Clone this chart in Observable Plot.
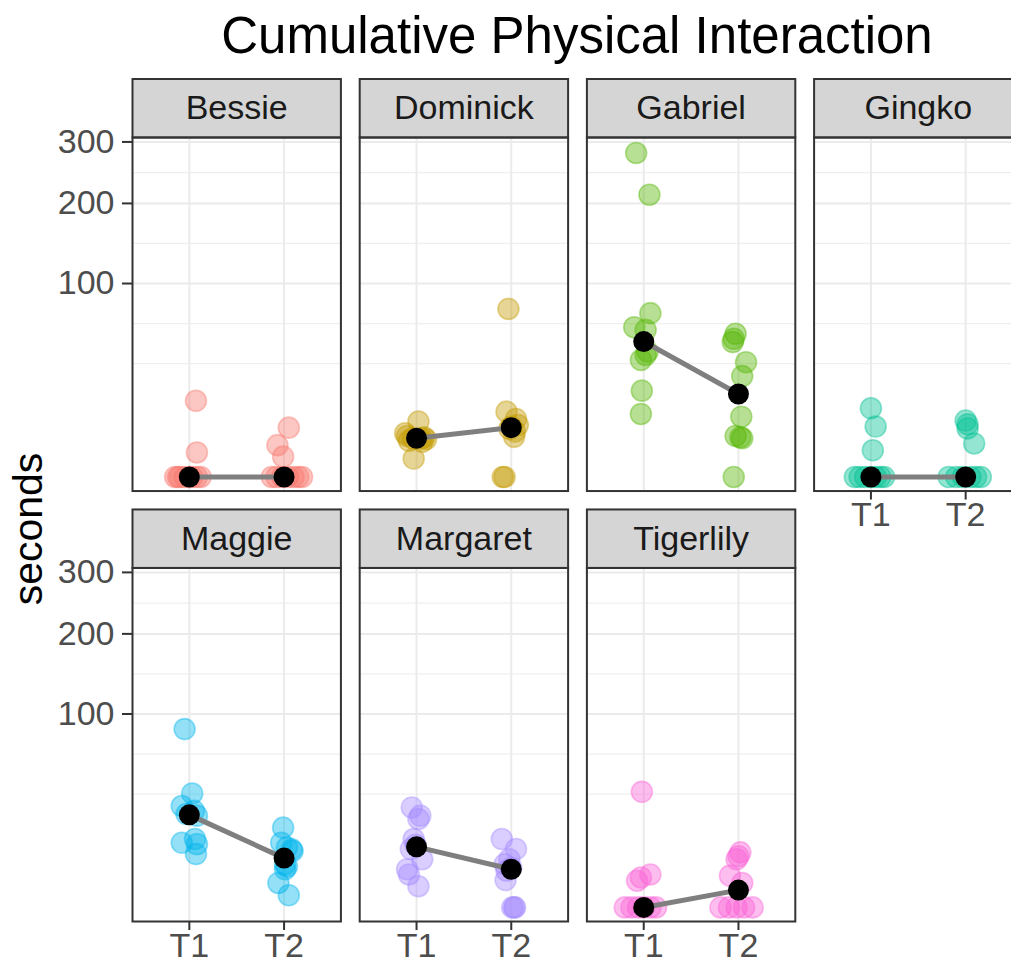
<!DOCTYPE html>
<html>
<head>
<meta charset="utf-8">
<script src="https://cdn.jsdelivr.net/npm/d3@7"></script>
<script src="https://cdn.jsdelivr.net/npm/@observablehq/plot@0.6"></script>
<style>
html, body { margin: 0; padding: 0; background: #fff; overflow: hidden; }
#wrap { position: relative; width: 1011px; height: 965px; overflow: hidden; background: #fff; }
#chart { position: absolute; left: 0; top: 0; width: 1024px; }
#chart svg { max-width: none !important; }
#title { position: absolute; left: 132px; width: 890px; top: 6px; text-align: center;
  font-family: "Liberation Sans", Arial, sans-serif; font-size: 51px; line-height: 60px; color: #000; white-space: nowrap; }
#ylab { position: absolute; left: 28px; top: 529px; transform: translate(-50%, -50%) rotate(-90deg);
  font-family: "Liberation Sans", Arial, sans-serif; font-size: 41px; line-height: 1; color: #000; white-space: nowrap; }
</style>
</head>
<body>
<div id="wrap">
  <div id="chart"></div>
  <div id="title">Cumulative Physical Interaction</div>
  <div id="ylab">seconds</div>
</div>
<script>
// ---- data ----
const panels = ["Bessie", "Dominick", "Gabriel", "Gingko", "Maggie", "Margaret", "Tigerlily"];
const panelColors = ["#F8766D", "#C49A00", "#53B400", "#00C094", "#00B6EB", "#A58AFF", "#FB61D7"];
const timeLabels = ["T1", "T2"];
const yTicks = [100, 200, 300];

// seconds per session, by panel (same order as panels)
const valuesT1 = [
  [15.5, 1.6, 0, 0, 0, 0, 0, 0, 0, 0],
  [8.2, 5.1, 4.5, 4.0, 4.0, 3.8, 3.5, 3.3, 0.9, 4.2],
  [280.6, 212.9, 71.7, 59.9, 57.8, 42.0, 39.8, 36.6, 19.9, 10.6],
  [12.6, 6.8, 1.9, 0, 0, 0, 0, 0, 0, 0],
  [85.0, 34.7, 27.5, 24.9, 23.3, 22.5, 12.5, 11.2, 10.7, 7.6],
  [26.7, 22.5, 20.9, 12.5, 10.5, 9.1, 6.2, 3.9, 2.9, 1.2],
  [35.7, 2.9, 2.4, 1.9, 0, 0, 0, 0, 0, 0]
];
const valuesT2 = [
  [6.5, 2.7, 1.1, 0, 0, 0, 0, 0, 0, 0],
  [75.5, 11.4, 9.0, 7.2, 6.8, 6.2, 5.5, 4.3, 0, 0],
  [54.8, 51.0, 48.6, 35.2, 27.2, 9.7, 4.5, 4.2, 4.0, 0],
  [8.5, 7.4, 6.3, 3.0, 0, 0, 0, 0, 0, 0],
  [17.0, 11.2, 9.6, 9.0, 8.5, 5.0, 4.5, 3.9, 1.6, 0.4],
  [12.5, 9.1, 6.2, 5.0, 4.2, 3.6, 2.0, 0, 0, 0],
  [8.1, 7.0, 6.2, 2.7, 1.6, 0, 0, 0, 0, 0]
];
// horizontal jitter (in category units)
const jitterT1 = [
  [0.07, 0.08, -0.15, -0.10, -0.05, 0.00, 0.03, 0.08, 0.12, -0.12],
  [0.02, -0.12, -0.10, 0.05, -0.04, 0.10, -0.08, 0.06, -0.03, 0.08],
  [-0.08, 0.06, 0.07, -0.10, 0.02, 0.04, 0.02, -0.03, -0.02, -0.03],
  [0.00, 0.05, 0.02, -0.17, -0.12, -0.06, 0.00, 0.05, 0.10, 0.14],
  [-0.05, 0.03, -0.08, 0.05, -0.03, 0.08, 0.06, -0.08, 0.08, 0.07],
  [-0.05, 0.04, 0.02, -0.03, -0.01, -0.06, 0.06, -0.10, -0.08, 0.02],
  [-0.02, 0.07, -0.03, -0.07, -0.20, -0.13, -0.06, 0.00, 0.07, 0.13]
];
const jitterT2 = [
  [0.05, -0.07, -0.01, -0.13, -0.08, -0.02, 0.04, 0.10, 0.15, 0.19],
  [-0.03, -0.05, 0.05, 0.07, 0.00, -0.02, 0.04, 0.03, -0.09, -0.07],
  [-0.03, -0.05, -0.06, 0.08, 0.04, 0.03, -0.03, 0.02, 0.04, -0.05],
  [0.00, 0.02, 0.02, 0.09, -0.18, -0.10, -0.03, 0.05, 0.11, 0.16],
  [-0.01, -0.03, 0.03, 0.08, 0.09, 0.01, 0.03, 0.01, -0.06, 0.05],
  [-0.10, 0.05, -0.02, -0.07, 0.00, -0.05, -0.06, 0.03, 0.01, 0.04],
  [0.02, 0.00, -0.02, -0.09, 0.04, -0.19, -0.10, -0.02, 0.06, 0.15]
];
// summary (median) per panel
const medianT1 = [0, 4.0, 49.0, 0, 22.9, 9.8, 0];
const medianT2 = [0, 6.5, 18.4, 0, 6.5, 3.9, 0.8];

// ---- build tables ----
const NCOL = 4;
const points = [];
panels.forEach((name, i) => {
  [[valuesT1, jitterT1], [valuesT2, jitterT2]].forEach(([vals, jit], t) => {
    vals[i].forEach((v, k) => points.push({name, col: i % NCOL, row: Math.floor(i / NCOL), x: t + 1 + jit[i][k], y: v}));
  });
});
const medians = [];
panels.forEach((name, i) => {
  [medianT1, medianT2].forEach((m, t) => medians.push({name, col: i % NCOL, row: Math.floor(i / NCOL), x: t + 1, y: m[i]}));
});
const stripData = panels.map((name, i) => ({name, col: i % NCOL, row: Math.floor(i / NCOL)}));

// minor breaks the way ggplot2 computes them (midpoints in sqrt space)
const sMaj = yTicks.map(Math.sqrt);
const sExt = [sMaj[0] - (sMaj[1] - sMaj[0]), ...sMaj];
const yMinor = [];
for (let k = 0; k < sExt.length - 1; k++) {
  yMinor.push(sExt[k] ** 2, ((sExt[k] + sExt[k + 1]) / 2) ** 2);
}
const yMinorOnly = yMinor.filter(v => !yTicks.includes(v) && v > 0);

// ---- layout ----
const W = 1024, H = 965, mTop = 137, mBottom = 44, mLeft = 132, mRight = 2;
const fyPad = 0.1787, fxPad = 0.0827;
const bandH = (H - mTop - mBottom) / (2 - fyPad) * (1 - fyPad);
const stripH = 58.5;
const font = "Liberation Sans, Arial, Helvetica, sans-serif";

const hasAxisMarks = typeof Plot.axisX === "function";

const marks = [
  Plot.ruleY(yMinorOnly, {stroke: "#efefef", strokeWidth: 1.3}),
  Plot.ruleY(yTicks, {stroke: "#ebebeb", strokeWidth: 2}),
  Plot.ruleX([1, 2], {stroke: "#ebebeb", strokeWidth: 2}),
  Plot.frame({fill: "#d5d5d5", stroke: "#333333", strokeWidth: 2, insetTop: -stripH, insetBottom: bandH}),
  Plot.text(stripData, {fx: "col", fy: "row", text: "name", frameAnchor: "top", lineAnchor: "middle", dy: -29, fontSize: 34, fill: "#1a1a1a"}),
  Plot.dot(points, {fx: "col", fy: "row", x: "x", y: "y", r: 10.5, fill: "name", stroke: "name",
    fillOpacity: 0.42, strokeOpacity: 0.42, strokeWidth: 1.6}),
  Plot.line(medians, {fx: "col", fy: "row", x: "x", y: "y", z: "name", stroke: "#7f7f7f", strokeWidth: 5}),
  Plot.dot(medians, {fx: "col", fy: "row", x: "x", y: "y", r: 10.5, fill: "black"}),
  Plot.frame({stroke: "#333333", strokeWidth: 2})
];
if (hasAxisMarks) {
  marks.push(
    Plot.axisX({ticks: [1, 2], tickFormat: d => timeLabels[d - 1], tickSize: 9, tickPadding: 2, fontSize: 34,
      stroke: "#333333", strokeWidth: 2, fill: "#4d4d4d", label: null, facetAnchor: "bottom-empty"}),
    Plot.axisY({ticks: yTicks, tickFormat: d => String(d), tickSize: 10, tickPadding: 8, fontSize: 34,
      stroke: "#333333", strokeWidth: 2, fill: "#4d4d4d", label: null, facetAnchor: "left"})
  );
}

const chart = Plot.plot({
  width: W, height: H,
  marginTop: mTop, marginBottom: mBottom, marginLeft: mLeft, marginRight: mRight,
  style: {fontFamily: font, fontSize: "34px", background: "transparent", overflow: "visible", maxWidth: "none"},
  fx: {domain: [0, 1, 2, 3], axis: null, paddingInner: fxPad, paddingOuter: 0, round: false},
  fy: {domain: [0, 1], axis: null, paddingInner: fyPad, paddingOuter: 0, round: false},
  x: {domain: [0.4, 2.6], ...(hasAxisMarks ? {} : {ticks: [1, 2], tickFormat: d => timeLabels[d - 1], tickSize: 9, label: null})},
  y: {type: "sqrt", domain: [-0.53, 308], ...(hasAxisMarks ? {} : {ticks: yTicks, tickSize: 10, label: null})},
  color: {domain: panels, range: panelColors},
  marks
});
document.getElementById("chart").appendChild(chart);
</script>
</body>
</html>
